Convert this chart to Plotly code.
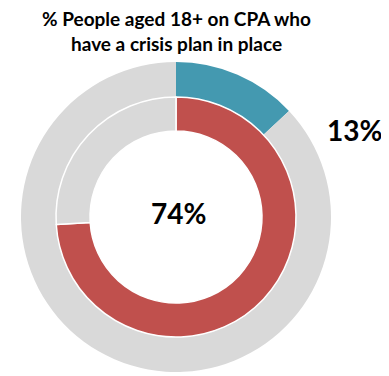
import plotly.graph_objects as go

# page body has an 8px margin, so draw in a figure offset by that margin
OFF = 8
W, H = 389 - OFF, 376 - OFF

title_lines = ["% People aged 18+ on CPA who", "have a crisis plan in place"]
outer_labels = ["With crisis plan", "Other"]
outer_values = [13, 87]
inner_labels = ["With crisis plan", "Other"]
inner_values = [74, 26]
outer_colors = ["#4499b0", "#d9d9d9"]
inner_colors = ["#c0504d", "#d9d9d9"]

def px_dom(cx, cy, r):
    cx, cy = cx - OFF, cy - OFF
    return dict(x=[(cx - r) / W, (cx + r) / W], y=[(H - cy - r) / H, (H - cy + r) / H])

def px_x(x):
    return (x - OFF) / W

def px_y(y):
    return 1 - (y - OFF) / H

cx, cy = 176, 217
fig = go.Figure()
fig.add_trace(go.Pie(
    labels=outer_labels, values=outer_values, sort=False, direction="clockwise", rotation=0,
    hole=120 / 155, domain=px_dom(cx, cy, 155), textinfo="none", hoverinfo="label+value",
    marker=dict(colors=outer_colors, line=dict(color="white", width=0)), showlegend=False))
fig.add_trace(go.Pie(
    labels=inner_labels, values=inner_values, sort=False, direction="clockwise", rotation=0,
    hole=86 / 120, domain=px_dom(cx, cy, 120), textinfo="none", hoverinfo="label+value",
    marker=dict(colors=inner_colors, line=dict(color="white", width=1.5)), showlegend=False))

font = "Lato, 'Open Sans', sans-serif"
for line, yy in zip(title_lines, [18, 43]):
    fig.add_annotation(text="<b>" + line + "</b>", x=px_x(176), y=px_y(yy), xref="paper", yref="paper",
                       showarrow=False, xanchor="center", yanchor="middle", borderpad=0,
                       font=dict(family=font, size=19, color="#000"))
fig.add_annotation(text="<b>%d%%</b>" % inner_values[0], x=px_x(178), y=px_y(213), xref="paper", yref="paper",
                   showarrow=False, xanchor="center", yanchor="middle",
                   font=dict(family=font, size=28, color="#000"))
fig.add_annotation(text="<b>%d%%</b>" % outer_values[0], x=px_x(354), y=px_y(130), xref="paper", yref="paper",
                   showarrow=False, xanchor="center", yanchor="middle",
                   font=dict(family=font, size=28, color="#000"))

fig.update_layout(width=W, height=H, margin=dict(l=0, r=0, t=0, b=0),
                  paper_bgcolor="white", plot_bgcolor="white")
fig.write_html("out.html")
